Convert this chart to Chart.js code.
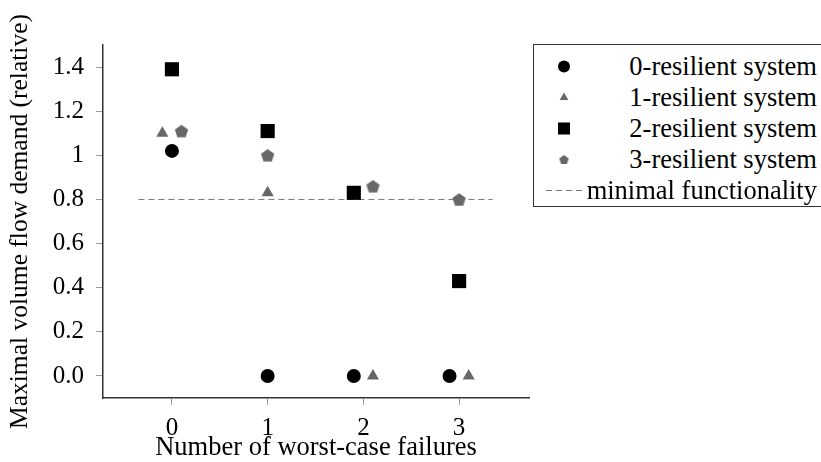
<!DOCTYPE html>
<html>
<head>
<meta charset="utf-8">
<script src="https://cdn.jsdelivr.net/npm/chart.js@4/dist/chart.umd.min.js"></script>
<style>
  html, body { margin: 0; padding: 0; background: #fff; overflow: hidden; }
  #wrap { position: relative; width: 821px; height: 462px; }
  #legend { position: absolute; left: 533px; top: 44px; width: 300px; height: 163px; border: 1.5px solid #333;
            box-sizing: border-box; padding-top: 6px; background: #fff;
            font-family: "Liberation Serif", serif; font-size: 26.5px; color: #000; }
  .row { position: relative; height: 31px; line-height: 31px; }
  .row canvas { position: absolute; left: 0; top: 0; }
  .row span { position: absolute; right: 15px; top: 0; white-space: nowrap; }
</style>
</head>
<body>
<div id="wrap">
  <canvas id="chart" width="821" height="462"></canvas>
  <div id="legend"></div>
</div>
<script>
// x tick values and labels
const xTicks = [0, 1, 2, 3];
const xTickLabels = ['0', '1', '2', '3'];
// y tick values and labels
const yTicks = [0, 0.2, 0.4, 0.6, 0.8, 1, 1.2, 1.4];
const yTickLabels = ['0.0', '0.2', '0.4', '0.6', '0.8', '1', '1.2', '1.4'];

const seriesNames = ['0-resilient system', '1-resilient system', '2-resilient system', '3-resilient system'];

// 0-resilient system
const res0X = [0, 1, 1.9, 2.9];
const res0Y = [1.02, 0, 0, 0];
// 1-resilient system
const res1X = [-0.1, 1, 2.1, 3.1];
const res1Y = [1.10, 0.83, 0, 0];
// 2-resilient system
const res2X = [0, 1, 1.9, 3];
const res2Y = [1.39, 1.11, 0.83, 0.43];
// 3-resilient system
const res3X = [0.1, 1, 2.1, 3];
const res3Y = [1.11, 1.0, 0.86, 0.80];
// minimal functionality threshold
const minimalName = 'minimal functionality';
const minimalX = [-0.35, 3.35];
const minimalY = [0.8, 0.8];

const BLACK = '#000';
const GRAY = '#676767';
const tickFont = { family: '"Liberation Serif", serif', size: 25 };
const xTitleFont = { family: '"Liberation Serif", serif', size: 26.5, lineHeight: 1.0 };
const yTitleFont = { family: '"Liberation Serif", serif', size: 25.5, lineHeight: 1.0 };

// pentagon marker (Chart.js has none built in)
function makePentagon(size, color) {
  const c = document.createElement('canvas');
  c.width = size; c.height = size;
  const g = c.getContext('2d');
  const R = size / 2 - 0.5;
  const cx = size / 2, cy = size / 2 + 0.095 * R;
  g.beginPath();
  for (let i = 0; i < 5; i++) {
    const a = -Math.PI / 2 + i * 2 * Math.PI / 5;
    const px = cx + R * Math.cos(a), py = cy + R * Math.sin(a);
    if (i === 0) g.moveTo(px, py); else g.lineTo(px, py);
  }
  g.closePath();
  g.fillStyle = color;
  g.fill();
  return c;
}
const pentBig = makePentagon(15, GRAY);
const pentSmall = makePentagon(11, GRAY);

function pts(xs, ys) {
  return xs.map((x, i) => ({ x: x, y: ys[i] }));
}

const chart = new Chart(document.getElementById('chart'), {
  type: 'scatter',
  data: {
    datasets: [
      { label: seriesNames[0], data: pts(res0X, res0Y), pointStyle: 'circle', pointRadius: 7,
        backgroundColor: BLACK, borderWidth: 0 },
      { label: seriesNames[1], data: pts(res1X, res1Y), pointStyle: 'triangle', pointRadius: 7,
        backgroundColor: GRAY, borderWidth: 0 },
      { label: seriesNames[2], data: pts(res2X, res2Y), pointStyle: 'rect', pointRadius: 10,
        backgroundColor: BLACK, borderWidth: 0 },
      { label: seriesNames[3], data: pts(res3X, res3Y), pointStyle: pentBig, pointRadius: 7,
        backgroundColor: GRAY, borderWidth: 0 },
      { label: minimalName, type: 'line', data: pts(minimalX, minimalY), showLine: true, pointRadius: 0,
        borderColor: '#777', borderWidth: 1, borderDash: [6, 4], fill: false }
    ]
  },
  options: {
    responsive: false,
    animation: false,
    events: [],
    layout: { padding: { left: 0, top: 45, right: 292, bottom: 0 } },
    plugins: { legend: { display: false }, tooltip: { enabled: false } },
    scales: {
      x: {
        type: 'linear', min: -0.72, max: 3.73,
        afterBuildTicks: s => { s.ticks = xTicks.map(v => ({ value: v })); },
        afterFit: s => { s.height = 64; },
        ticks: { callback: (v, i) => xTickLabels[i], font: tickFont, color: BLACK, padding: 8, maxRotation: 0 },
        grid: { drawOnChartArea: false, tickLength: 7, color: '#999', lineWidth: 1 },
        border: { color: '#333', width: 1.5 },
        title: { display: true, text: 'Number of worst-case failures', font: xTitleFont,
                 color: BLACK, padding: { top: 0, bottom: 1 } }
      },
      y: {
        type: 'linear', min: -0.1, max: 1.5,
        afterBuildTicks: s => { s.ticks = yTicks.map(v => ({ value: v })); },
        afterFit: s => { s.width = 103; },
        ticks: { callback: (v, i) => yTickLabels[i], font: tickFont, color: BLACK, padding: 12 },
        grid: { drawOnChartArea: false, tickLength: 7, color: '#999', lineWidth: 1 },
        border: { color: '#333', width: 1.5 },
        title: { display: true, text: 'Maximal volume flow demand (relative)', font: yTitleFont,
                 color: BLACK, padding: { top: 8, bottom: 0 } }
      }
    }
  }
});

// HTML legend
const legendItems = [
  { text: seriesNames[0], style: 'circle', r: 6, color: BLACK },
  { text: seriesNames[1], style: 'triangle', r: 5, color: GRAY },
  { text: seriesNames[2], style: 'rect', r: 8.5, color: BLACK },
  { text: seriesNames[3], style: pentSmall, r: 5, color: GRAY },
  { text: minimalName, style: 'dash', color: '#777' }
];
const legend = document.getElementById('legend');
legendItems.forEach(item => {
  const row = document.createElement('div');
  row.className = 'row';
  const c = document.createElement('canvas');
  c.width = 60; c.height = 31;
  const g = c.getContext('2d');
  if (item.style === 'dash') {
    g.strokeStyle = item.color;
    g.lineWidth = 1;
    g.setLineDash([6, 4]);
    g.beginPath();
    g.moveTo(12, 15.5);
    g.lineTo(50, 15.5);
    g.stroke();
  } else {
    g.fillStyle = item.color;
    Chart.helpers.drawPoint(g, { pointStyle: item.style, radius: item.r, rotation: 0, borderWidth: 0 }, 30, 15.5);
  }
  const span = document.createElement('span');
  span.textContent = item.text;
  row.appendChild(c);
  row.appendChild(span);
  legend.appendChild(row);
});
</script>
</body>
</html>
